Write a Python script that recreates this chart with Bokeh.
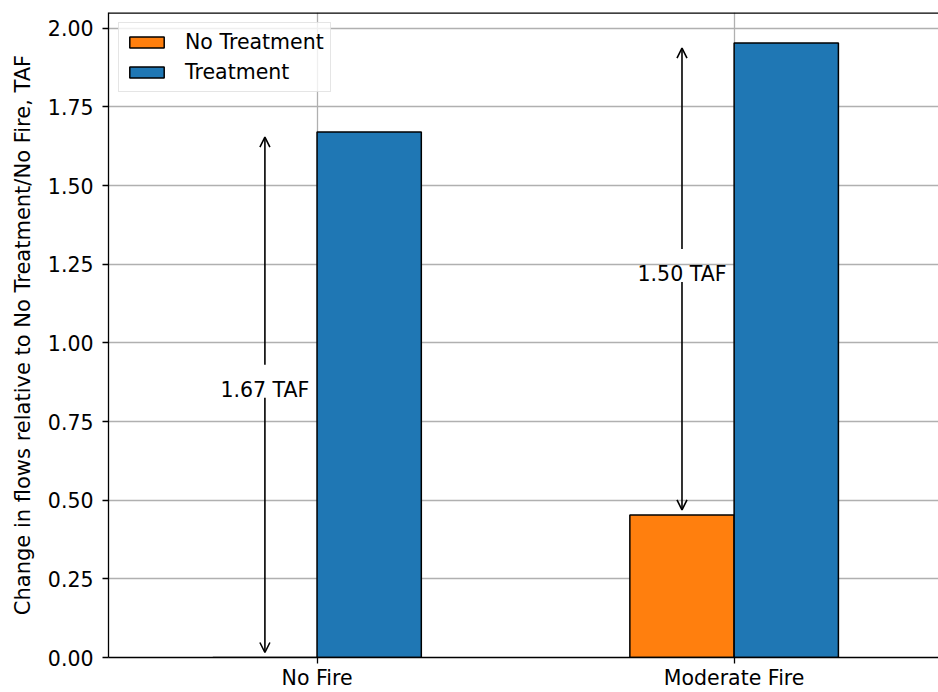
from bokeh.plotting import figure
from bokeh.models import Range1d, FixedTicker, Arrow, OpenHead, Span, Label
from bokeh.embed import file_html
from bokeh.resources import INLINE

# ---- data ----
categories = ["No Fire", "Moderate Fire"]
no_treatment = [0.0, 0.453]
treatment = [1.67, 1.953]
y_ticks = [0.0, 0.25, 0.5, 0.75, 1.0, 1.25, 1.5, 1.75, 2.0]
series_names = ["No Treatment", "Treatment"]
series_colors = ["#ff7f0e", "#1f77b4"]

FONT = "DejaVu Sans"
FS = "20.5px"
bar_w = 0.25
x_pos = list(range(len(categories)))
y_end = 2.05
frame_h = 645.0
ppu = frame_h / y_end  # pixels per data unit (y)

p = figure(width=938, height=692, output_backend="svg", toolbar_location=None,
           x_range=Range1d(-0.5, 1.49), y_range=Range1d(0, y_end),
           min_border_left=108, min_border_right=0, min_border_top=12, min_border_bottom=35)
p.outline_line_color = None
p.background_fill_color = "white"

x_nt = [x - bar_w / 2 for x in x_pos]
x_t = [x + bar_w / 2 for x in x_pos]
p.vbar(x=x_nt, top=no_treatment, width=bar_w, fill_color=series_colors[0],
       line_color="black", line_width=1.5, legend_label=series_names[0])
p.vbar(x=x_t, top=treatment, width=bar_w, fill_color=series_colors[1],
       line_color="black", line_width=1.5, legend_label=series_names[1])

# arrows and labels
shrink = 5 / ppu
for xi, lo, hi in zip(x_nt, no_treatment, treatment):
    mid = (lo + hi) / 2
    base = mid + 5 / ppu
    p.add_layout(Arrow(end=OpenHead(size=10, line_width=1.6, line_color="black"),
                       x_start=xi, y_start=base + 25 / ppu, x_end=xi, y_end=hi - shrink,
                       line_width=1.6, line_color="black"))
    p.add_layout(Arrow(end=OpenHead(size=10, line_width=1.6, line_color="black"),
                       x_start=xi, y_start=base - 8 / ppu, x_end=xi, y_end=lo + shrink,
                       line_width=1.6, line_color="black"))
    p.add_layout(Label(x=xi, y=base, text=f"{hi - lo:.2f} TAF", text_align="center",
                       text_baseline="alphabetic", text_font=FONT,
                       text_font_size=FS, text_color="black"))

# top spine
p.add_layout(Span(location=y_end, dimension="width", line_color="black", line_width=2.6))

# axes
p.xaxis.ticker = FixedTicker(ticks=x_pos)
p.xaxis.major_label_overrides = {i: c for i, c in enumerate(categories)}
p.yaxis.ticker = FixedTicker(ticks=y_ticks)
p.yaxis.major_label_overrides = {t: f"{t:.2f}" for t in y_ticks}
for ax in (p.xaxis, p.yaxis):
    ax.axis_line_color = "black"
    ax.axis_line_width = 1.3
    ax.major_tick_line_color = "black"
    ax.major_tick_line_width = 1.3
    ax.major_tick_in = 0
    ax.major_tick_out = 6
    ax.minor_tick_line_color = None
    ax.major_label_text_font = FONT
    ax.major_label_text_font_size = FS
    ax.major_label_text_color = "black"
p.xaxis.major_label_standoff = 2
p.yaxis.major_label_standoff = 9
p.yaxis.axis_label = "Change in flows relative to No Treatment/No Fire, TAF"
p.yaxis.axis_label_text_font = FONT
p.yaxis.axis_label_text_font_size = "21px"
p.yaxis.axis_label_text_font_style = "normal"
p.yaxis.axis_label_text_color = "black"
p.yaxis.axis_label_standoff = 10

# grid
p.xgrid.ticker = FixedTicker(ticks=x_pos)
p.ygrid.ticker = FixedTicker(ticks=y_ticks)
for g in (p.xgrid, p.ygrid):
    g.grid_line_color = "#b0b0b0"
    g.grid_line_width = 1.3

# legend
lg = p.legend[0]
lg.location = "top_left"
lg.margin = 10
lg.padding = 6
lg.spacing = 4
lg.label_height = 26
lg.glyph_width = 43
lg.glyph_height = 14
lg.label_standoff = 17
lg.label_text_font = FONT
lg.label_text_font_size = FS
lg.label_text_color = "black"
lg.border_line_color = "#cccccc"
lg.border_line_width = 1.3
lg.background_fill_alpha = 0.8

open("out.html", "w").write(file_html(p, INLINE))
